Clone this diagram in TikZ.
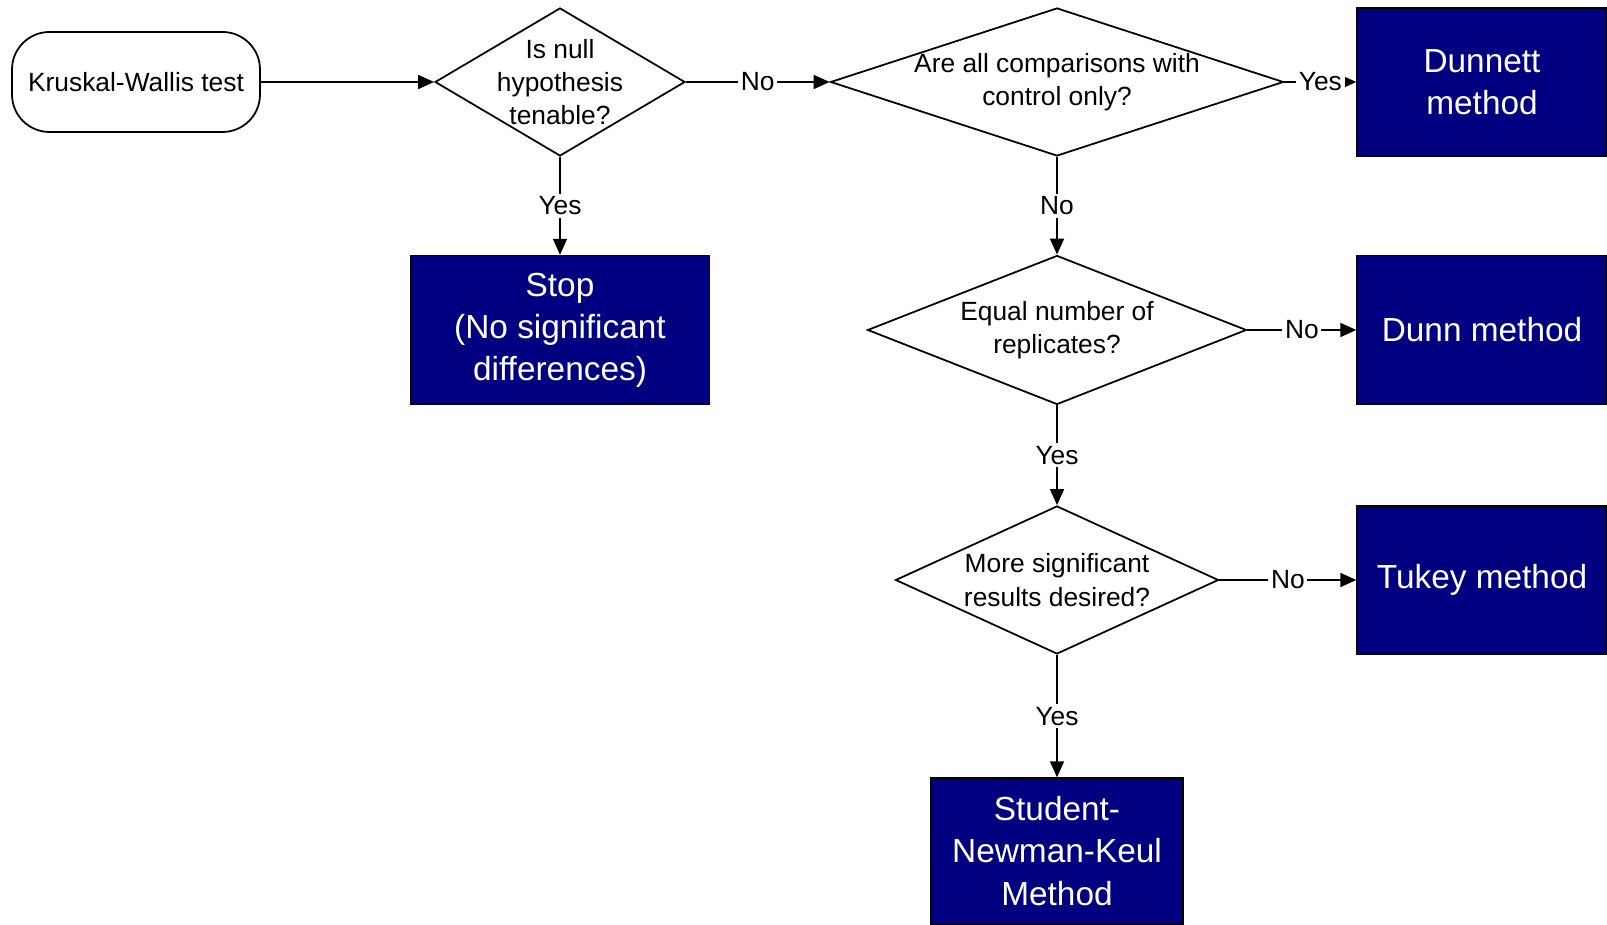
\documentclass[tikz,border=0pt]{standalone}
\usepackage{fontspec}
\setmainfont{Liberation Sans}
\usetikzlibrary{arrows.meta,shapes.geometric}
\definecolor{boxnavy}{HTML}{000080}

\begin{document}
\begin{tikzpicture}[
  >={Triangle[length=3.2mm,width=2.8mm]},
  flow/.style={line width=1pt},
  start/.style={draw, line width=1pt, rounded corners=0.75cm,
    minimum width=4.96cm, minimum height=2.0cm,
    font=\fontsize{15}{19}\selectfont},
  decide/.style={draw, diamond, line width=1pt, inner sep=0pt},
  method/.style={draw=black, fill=boxnavy, text=white, align=center,
    line width=0.8pt, font=\fontsize{19}{24}\selectfont},
  qtext/.style={font=\fontsize{15}{19}\selectfont, align=center},
  lab/.style={fill=white, inner sep=1.5pt, font=\fontsize{15}{19}\selectfont}
]
\useasboundingbox (0,0) rectangle (32.14,18.48);
% ---- first row ----
\node[start] (kw) at (2.72,16.84) {Kruskal-Wallis test};
\node[decide, minimum width=5.0cm, minimum height=2.96cm,
  label={[qtext]center:{Is null\\hypothesis\\tenable?}}]
  (q1) at (11.2,16.84) {};
\node[decide, minimum width=9.06cm, minimum height=2.96cm,
  label={[qtext]center:{Are all comparisons with\\control only?}}]
  (q2) at (21.14,16.84) {};
\node[method, minimum width=5.0cm, minimum height=2.96cm]
  (dunnett) at (29.64,16.84) {Dunnett\\method};
% ---- second row ----
\node[method, minimum width=5.98cm, minimum height=2.98cm]
  (stop) at (11.2,11.88) {Stop\\(No significant\\differences)};
\node[decide, minimum width=7.58cm, minimum height=2.98cm,
  label={[qtext]center:{Equal number of\\replicates?}}]
  (q3) at (21.14,11.88) {};
\node[method, minimum width=5.0cm, minimum height=2.98cm]
  (dunn) at (29.64,11.88) {Dunn method};
% ---- third row ----
\node[decide, minimum width=6.46cm, minimum height=2.96cm,
  label={[qtext]center:{More significant\\results desired?}}]
  (q4) at (21.14,6.88) {};
\node[method, minimum width=5.0cm, minimum height=2.96cm]
  (tukey) at (29.64,6.88) {Tukey method};
% ---- last box ----
\node[method, minimum width=5.04cm, minimum height=2.92cm]
  (snk) at (21.14,1.46) {Student-\\Newman-Keul\\Method};
% ---- connectors ----
\draw[flow,->] (kw) -- (q1);
\draw[flow,->] (q1) -- node[lab] {No} (q2);
\draw[flow,->] (q2) -- node[lab] {Yes} (dunnett);
\draw[flow,->] (q1) -- node[lab] {Yes} (stop);
\draw[flow,->] (q2) -- node[lab] {No} (q3);
\draw[flow,->] (q3) -- node[lab] {No} (dunn);
\draw[flow,->] (q3) -- node[lab] {Yes} (q4);
\draw[flow,->] (q4) -- node[lab] {No} (tukey);
\draw[flow,->] (q4) -- node[lab] {Yes} (snk);
\end{tikzpicture}
\end{document}
